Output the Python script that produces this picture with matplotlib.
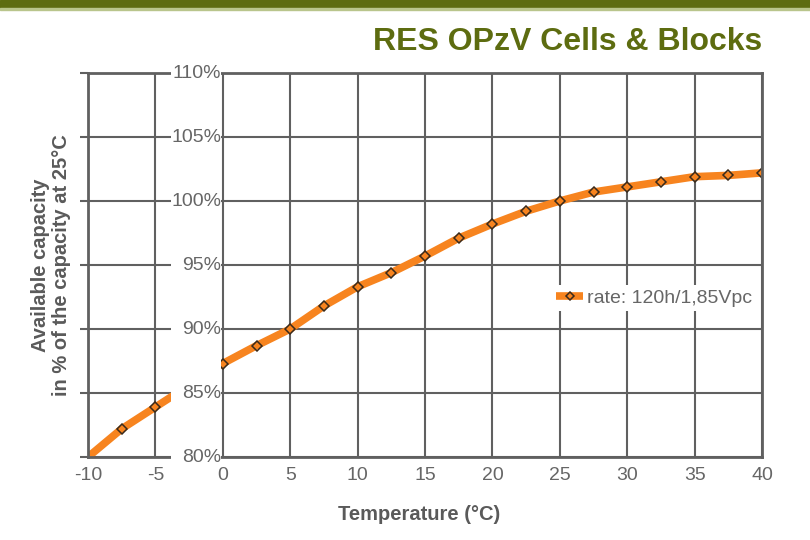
import matplotlib.pyplot as plt
from matplotlib.patches import Rectangle

plt.rcParams['font.family'] = ['Liberation Sans', 'DejaVu Sans']
plt.rcParams['axes.unicode_minus'] = False

# temperature in °C, available capacity in % of capacity at 25°C
temps = [-10, -7.5, -5, -2.5, 0, 2.5, 5, 7.5, 10, 12.5, 15, 17.5, 20,
         22.5, 25, 27.5, 30, 32.5, 35, 37.5, 40]
capacity = [80.0, 82.2, 83.9, 85.6, 87.3, 88.7, 90.0, 91.8, 93.3, 94.4, 95.7,
            97.1, 98.2, 99.2, 100.0, 100.7, 101.1, 101.5, 101.9, 102.0, 102.2]
series_name = "rate: 120h/1,85Vpc"

x_ticks = list(range(-10, 45, 5))
y_ticks = list(range(80, 115, 5))
y_tick_labels = [f"{v}%" for v in y_ticks]

olive = '#5d6c10'
grid_col = '#606060'
text_col = '#666666'
orange = '#f7841f'

fig = plt.figure(figsize=(8.1, 5.4), dpi=100)
fig.patches.append(Rectangle((0, 1 - 8 / 540), 1, 8 / 540, transform=fig.transFigure,
                             color=olive, zorder=0))
fig.patches.append(Rectangle((0, 1 - 10 / 540), 1, 2 / 540, transform=fig.transFigure,
                             color='#b9c58c', zorder=0))

ax = fig.add_axes([88 / 810, 1 - 457 / 540, 674 / 810, 384 / 540])
ax.set_xlim(-10, 40)
ax.set_ylim(80, 110)
ax.set_xticks(x_ticks)
ax.set_yticks(y_ticks)
ax.set_yticklabels([])
ax.grid(True, color=grid_col, linewidth=1.5)
ax.set_axisbelow(True)
for s in ax.spines.values():
    s.set_color(grid_col)
    s.set_linewidth(2)
ax.tick_params(axis='y', direction='out', length=6, width=1.5, color=grid_col)
ax.tick_params(axis='x', length=0, pad=7, labelsize=14, labelcolor=text_col)

ax.plot(temps, capacity, color=orange, linewidth=5.5, solid_capstyle='butt',
        marker='D', markersize=5, markerfacecolor='none', markeredgecolor='#3a2a1a',
        markeredgewidth=1.1, markevery=list(range(1, len(temps))), label=series_name,
        zorder=2)

# white strip behind the y tick labels, as in the original
ax.add_patch(Rectangle((-3.85, 79.6), 3.75, 30.8, facecolor='white', edgecolor='none',
                       zorder=3, clip_on=False))
for v, lab in zip(y_ticks, y_tick_labels):
    ax.text(-0.1, v, lab, ha='right', va='center', fontsize=14, color=text_col, zorder=4)

leg = ax.legend(loc='center left', bbox_to_anchor=(552 / 810, 1 - 298 / 540),
                bbox_transform=fig.transFigure, frameon=True, fancybox=False,
                facecolor='white', edgecolor='none', framealpha=1, fontsize=14,
                handlelength=1.4, handletextpad=0.2, borderpad=0.2, borderaxespad=0,
                numpoints=1, markerscale=0.8)
leg.get_frame().set_linewidth(0)
leg.set_zorder(2.4)
for t in leg.get_texts():
    t.set_color(text_col)

fig.text(762 / 810, 1 - 42 / 540, "RES OPzV Cells & Blocks", ha='right', va='center',
         fontsize=23, fontweight='bold', color=olive)
fig.text(51 / 810, 1 - 265 / 540, "Available capacity\nin % of the capacity at 25°C",
         rotation=90, ha='center', va='center', multialignment='center',
         fontsize=14.5, fontweight='bold', color='#5a5a5a', linespacing=1.15)
fig.text(419 / 810, 1 - 515 / 540, "Temperature (°C)", ha='center', va='center',
         fontsize=14.5, fontweight='bold', color='#5a5a5a')

fig.savefig('out.png', dpi=100)
